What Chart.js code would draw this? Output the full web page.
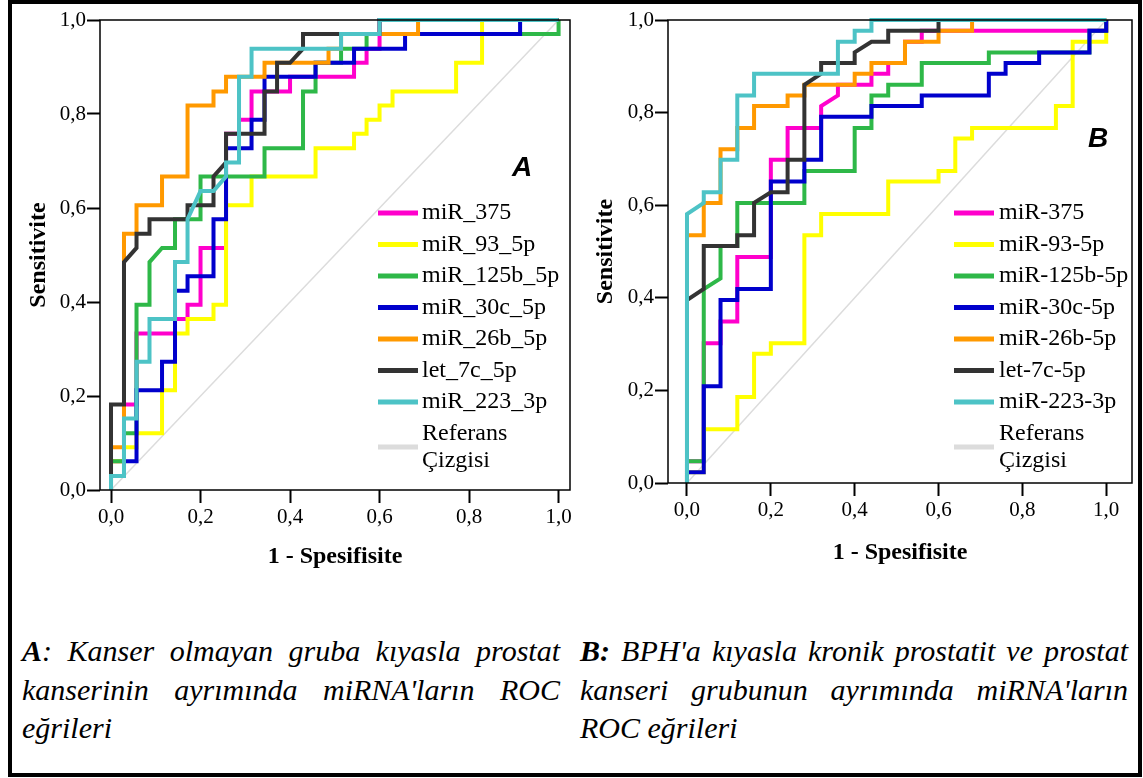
<!DOCTYPE html>
<html>
<head>
<meta charset="utf-8">
<script src="https://cdn.jsdelivr.net/npm/chart.js@4.4.0/dist/chart.umd.min.js"></script>
<style>
  body { margin: 0; background: #fff; width: 1143px; height: 778px; overflow: hidden; position: relative; font-family: 'Liberation Serif', 'Times New Roman', serif; }
  #frame { position: absolute; left: 8px; top: 0; width: 1134px; height: 777px; border: 4px solid #000; box-sizing: border-box; }
  canvas { position: absolute; top: 0; }
  #rocA { left: 0; }
  #rocB { left: 572px; }
  .cap { position: absolute; top: 632px; font-style: italic; font-size: 30px; line-height: 38.5px; text-align: justify; color: #000; }
</style>
</head>
<body>
<div id="frame"></div>
<canvas id="rocA" width="575" height="580"></canvas>
<canvas id="rocB" width="568" height="580"></canvas>
<div class="cap" style="left:22px;width:538px"><b>A</b>: Kanser olmayan gruba kıyasla prostat kanserinin ayrımında miRNA'ların ROC eğrileri</div>
<div class="cap" style="left:580px;width:548px"><b>B:</b> BPH'a kıyasla kronik prostatit ve prostat kanseri grubunun ayrımında miRNA'ların ROC eğrileri</div>

<script>
// --- eksen etiketleri ---
const tickValues = [0, 0.2, 0.4, 0.6, 0.8, 1.0];

// --- Grafik A: [1 - spesifisite, sensitivite] ---
const labelsA = ['miR_375', 'miR_93_5p', 'miR_125b_5p', 'miR_30c_5p', 'miR_26b_5p', 'let_7c_5p', 'miR_223_3p', 'Referans\nÇizgisi'];

const aMiR375 = [[0,0],[0,0.061],[0.029,0.061],[0.029,0.182],[0.057,0.182],[0.057,0.333],[0.143,0.333],[0.143,0.364],[0.171,0.364],[0.171,0.394],[0.2,0.394],[0.2,0.515],[0.257,0.515],[0.257,0.758],[0.286,0.758],[0.286,0.788],[0.314,0.788],[0.314,0.848],[0.4,0.848],[0.4,0.879],[0.543,0.879],[0.543,0.909],[0.571,0.909],[0.571,0.939],[0.6,0.939],[0.6,1],[1,1]];
const aMiR93 = [[0,0],[0,0.061],[0.029,0.061],[0.029,0.091],[0.057,0.091],[0.057,0.121],[0.114,0.121],[0.114,0.212],[0.143,0.212],[0.143,0.333],[0.171,0.333],[0.171,0.364],[0.229,0.364],[0.229,0.394],[0.257,0.394],[0.257,0.606],[0.314,0.606],[0.314,0.667],[0.457,0.667],[0.457,0.727],[0.543,0.727],[0.543,0.758],[0.571,0.758],[0.571,0.788],[0.6,0.788],[0.6,0.818],[0.629,0.818],[0.629,0.848],[0.771,0.848],[0.771,0.909],[0.829,0.909],[0.829,1],[1,1]];
const aMiR125b = [[0,0],[0,0.061],[0.029,0.061],[0.029,0.121],[0.057,0.121],[0.057,0.394],[0.086,0.394],[0.086,0.485],[0.114,0.515],[0.143,0.515],[0.143,0.576],[0.2,0.576],[0.2,0.667],[0.343,0.667],[0.343,0.727],[0.429,0.727],[0.429,0.848],[0.457,0.848],[0.457,0.909],[0.514,0.909],[0.514,0.939],[0.571,0.939],[0.571,0.970],[1,0.970],[1,1]];
const aMiR30c = [[0,0],[0,0.030],[0.029,0.030],[0.029,0.061],[0.057,0.061],[0.057,0.212],[0.114,0.212],[0.114,0.273],[0.143,0.273],[0.143,0.424],[0.171,0.424],[0.171,0.455],[0.229,0.455],[0.229,0.576],[0.257,0.576],[0.257,0.727],[0.314,0.727],[0.314,0.788],[0.343,0.788],[0.343,0.879],[0.457,0.879],[0.457,0.909],[0.543,0.909],[0.543,0.939],[0.657,0.939],[0.657,0.970],[0.914,0.970],[0.914,1],[1,1]];
const aMiR26b = [[0,0],[0,0.091],[0.029,0.091],[0.029,0.545],[0.057,0.545],[0.057,0.606],[0.114,0.606],[0.114,0.667],[0.171,0.667],[0.171,0.818],[0.229,0.818],[0.229,0.848],[0.257,0.848],[0.257,0.879],[0.343,0.879],[0.343,0.909],[0.486,0.909],[0.486,0.939],[0.514,0.939],[0.514,0.970],[0.686,0.970],[0.686,1],[1,1]];
const aLet7c = [[0,0],[0,0.182],[0.029,0.182],[0.029,0.485],[0.057,0.515],[0.057,0.545],[0.086,0.545],[0.086,0.576],[0.171,0.576],[0.171,0.606],[0.229,0.606],[0.229,0.667],[0.257,0.697],[0.257,0.758],[0.343,0.758],[0.343,0.848],[0.371,0.848],[0.371,0.909],[0.4,0.909],[0.429,0.939],[0.429,0.970],[0.6,0.970],[0.6,1],[1,1]];
const aMiR223 = [[0,0],[0,0.030],[0.029,0.030],[0.029,0.152],[0.057,0.152],[0.057,0.273],[0.086,0.273],[0.086,0.364],[0.143,0.364],[0.143,0.485],[0.171,0.485],[0.171,0.576],[0.2,0.636],[0.229,0.636],[0.257,0.667],[0.257,0.697],[0.286,0.697],[0.286,0.879],[0.314,0.879],[0.314,0.939],[0.514,0.939],[0.514,0.970],[0.6,0.970],[0.6,1],[1,1]];

// --- Grafik B ---
const labelsB = ['miR-375', 'miR-93-5p', 'miR-125b-5p', 'miR-30c-5p', 'miR-26b-5p', 'let-7c-5p', 'miR-223-3p', 'Referans\nÇizgisi'];

const bMiR375 = [[0,0],[0,0.047],[0.04,0.047],[0.04,0.302],[0.08,0.302],[0.08,0.349],[0.12,0.349],[0.12,0.488],[0.2,0.488],[0.2,0.698],[0.24,0.698],[0.24,0.767],[0.32,0.767],[0.32,0.814],[0.36,0.837],[0.36,0.860],[0.44,0.860],[0.44,0.884],[0.48,0.884],[0.48,0.907],[0.52,0.907],[0.52,0.953],[0.56,0.953],[0.56,0.977],[1,0.977],[1,1]];
const bMiR93 = [[0,0],[0,0.023],[0.04,0.023],[0.04,0.116],[0.12,0.116],[0.12,0.186],[0.16,0.186],[0.16,0.279],[0.2,0.279],[0.2,0.302],[0.28,0.302],[0.28,0.535],[0.32,0.535],[0.32,0.581],[0.48,0.581],[0.48,0.651],[0.6,0.651],[0.6,0.674],[0.64,0.674],[0.64,0.744],[0.68,0.744],[0.68,0.767],[0.88,0.767],[0.88,0.814],[0.92,0.814],[0.92,0.953],[1,0.953],[1,1]];
const bMiR125b = [[0,0],[0,0.047],[0.04,0.047],[0.04,0.419],[0.08,0.442],[0.08,0.512],[0.12,0.512],[0.12,0.605],[0.28,0.605],[0.28,0.674],[0.4,0.674],[0.4,0.767],[0.44,0.767],[0.44,0.837],[0.48,0.837],[0.48,0.860],[0.56,0.860],[0.56,0.907],[0.72,0.907],[0.72,0.930],[0.96,0.930],[0.96,0.977],[1,0.977],[1,1]];
const bMiR30c = [[0,0],[0,0.023],[0.04,0.023],[0.04,0.209],[0.08,0.209],[0.08,0.395],[0.12,0.395],[0.12,0.419],[0.2,0.419],[0.2,0.651],[0.28,0.651],[0.28,0.698],[0.32,0.698],[0.32,0.791],[0.44,0.791],[0.44,0.814],[0.56,0.814],[0.56,0.837],[0.72,0.837],[0.72,0.884],[0.76,0.884],[0.76,0.907],[0.84,0.907],[0.84,0.930],[0.96,0.930],[0.96,0.977],[1,0.977],[1,1]];
const bMiR26b = [[0,0],[0,0.535],[0.04,0.535],[0.04,0.605],[0.08,0.605],[0.08,0.721],[0.12,0.721],[0.12,0.767],[0.16,0.767],[0.16,0.814],[0.24,0.814],[0.24,0.837],[0.28,0.837],[0.28,0.860],[0.4,0.860],[0.4,0.884],[0.44,0.884],[0.44,0.907],[0.52,0.907],[0.52,0.953],[0.6,0.953],[0.6,0.977],[0.68,0.977],[0.68,1],[1,1]];
const bLet7c = [[0,0],[0,0.395],[0.04,0.419],[0.04,0.512],[0.12,0.512],[0.12,0.535],[0.16,0.535],[0.16,0.605],[0.2,0.628],[0.24,0.628],[0.24,0.698],[0.28,0.698],[0.28,0.860],[0.32,0.884],[0.32,0.907],[0.4,0.907],[0.4,0.930],[0.44,0.953],[0.48,0.953],[0.48,0.977],[0.6,0.977],[0.6,1],[1,1]];
const bMiR223 = [[0,0],[0,0.581],[0.04,0.605],[0.04,0.628],[0.08,0.628],[0.08,0.698],[0.12,0.698],[0.12,0.837],[0.16,0.837],[0.16,0.884],[0.36,0.884],[0.36,0.953],[0.4,0.953],[0.4,0.977],[0.44,0.977],[0.44,1],[1,1]];

const refLine = [[0,0],[1,1]];

// SPSS benzeri renkler (efsane sırasıyla)
const colors = ['#ff00cc', '#ffff00', '#2eb848', '#0000cc', '#ff9900', '#333333', '#4dc3c6', '#dcdcdc'];
// çizim sırası: camgöbeği en üstte, referans en altta
const drawOrder = [7, 6, 5, 4, 3, 2, 1, 8];

const serif = '"Liberation Serif", "Times New Roman", serif';
const fmt = v => v.toFixed(1).replace('.', ',');

// çerçeve + iç efsane + panel harfi
const rocExtras = {
  id: 'rocExtras',
  afterDatasetsDraw(chart, args, o) {
    const { ctx, chartArea: a } = chart;
    ctx.save();
    ctx.strokeStyle = '#000';
    ctx.lineWidth = 1.5;
    ctx.strokeRect(a.left, a.top, a.right - a.left, a.bottom - a.top);

    ctx.fillStyle = '#000';
    ctx.font = 'italic bold 28px "Liberation Sans", Arial, sans-serif';
    ctx.textAlign = 'center';
    ctx.textBaseline = 'middle';
    ctx.fillText(o.letter, o.letterX, o.letterY);

    ctx.font = '24px ' + serif;
    ctx.textAlign = 'left';
    chart.data.datasets.forEach((ds, i) => {
      const lines = ds.label.split('\n');
      const y = o.legendY + i * o.legendStep;
      const yMid = y + (lines.length - 1) * o.lineGap / 2;
      ctx.strokeStyle = ds.borderColor;
      ctx.lineWidth = 5;
      ctx.beginPath();
      ctx.moveTo(o.legendX, yMid);
      ctx.lineTo(o.legendX + 40, yMid);
      ctx.stroke();
      lines.forEach((t, k) => ctx.fillText(t, o.legendX + o.textGap, y + k * o.lineGap));
    });
    ctx.restore();
  }
};

function rocChart(id, series, labels, cfg) {
  const datasets = series.map((pts, i) => ({
    label: labels[i],
    data: pts.map(([x, y]) => ({ x, y })),
    showLine: true,
    borderColor: colors[i],
    backgroundColor: colors[i],
    borderWidth: i === series.length - 1 ? 1.5 : 4,
    pointRadius: 0,
    tension: 0,
    borderJoinStyle: 'miter',
    order: drawOrder[i],
    clip: false
  }));

  const tickFont = { family: serif, size: 21 };
  const titleFont = { family: serif, size: 24, weight: 'bold' };
  const gridOpts = { drawOnChartArea: false, drawTicks: true, tickLength: 13, tickColor: '#000', tickWidth: 2, color: '#000' };

  return new Chart(document.getElementById(id), {
    type: 'scatter',
    data: { datasets },
    options: {
      responsive: false,
      animation: false,
      events: [],
      layout: { padding: { left: 0, top: 20, right: cfg.padRight, bottom: 0 } },
      plugins: { legend: { display: false }, tooltip: { enabled: false }, rocExtras: cfg.extras },
      scales: {
        x: {
          type: 'linear', min: cfg.xMin, max: cfg.xMax,
          afterBuildTicks: s => { s.ticks = tickValues.map(v => ({ value: v })); },
          afterFit: s => { s.height = cfg.xAxisHeight; },
          ticks: { callback: v => fmt(v), font: tickFont, color: '#000', padding: 2, maxRotation: 0, autoSkip: false },
          grid: gridOpts,
          border: { display: false },
          title: { display: true, text: '1 - Spesifisite', font: titleFont, color: '#000', padding: { top: 0, bottom: cfg.xTitlePad } }
        },
        y: {
          type: 'linear', min: 0, max: 1,
          afterBuildTicks: s => { s.ticks = tickValues.map(v => ({ value: v })); },
          afterFit: s => { s.width = cfg.yAxisWidth; },
          ticks: { callback: v => fmt(v), font: tickFont, color: '#000', padding: 1, autoSkip: false },
          grid: gridOpts,
          border: { display: false },
          title: { display: true, text: 'Sensitivite', font: titleFont, color: '#000', padding: { top: cfg.yTitlePad, bottom: 0 } }
        }
      }
    },
    plugins: [rocExtras]
  });
}

rocChart('rocA', [aMiR375, aMiR93, aMiR125b, aMiR30c, aMiR26b, aLet7c, aMiR223, refLine], labelsA, {
  xMin: -0.0246, xMax: 1.0255, padRight: 5, xAxisHeight: 90, yAxisWidth: 100, xTitlePad: 8.6, yTitlePad: 24.6,
  extras: { letter: 'A', letterX: 522, letterY: 168, legendX: 378, textGap: 44, legendY: 213, legendStep: 31.5, lineGap: 27 }
});

rocChart('rocB', [bMiR375, bMiR93, bMiR125b, bMiR30c, bMiR26b, bLet7c, bMiR223, refLine], labelsB, {
  xMin: -0.0453, xMax: 1.0615, padRight: 8, xAxisHeight: 97, yAxisWidth: 96, xTitlePad: 12.6, yTitlePad: 19.6,
  extras: { letter: 'B', letterX: 526, letterY: 139, legendX: 382, textGap: 45, legendY: 213, legendStep: 31.5, lineGap: 27 }
});
</script>
</body>
</html>
